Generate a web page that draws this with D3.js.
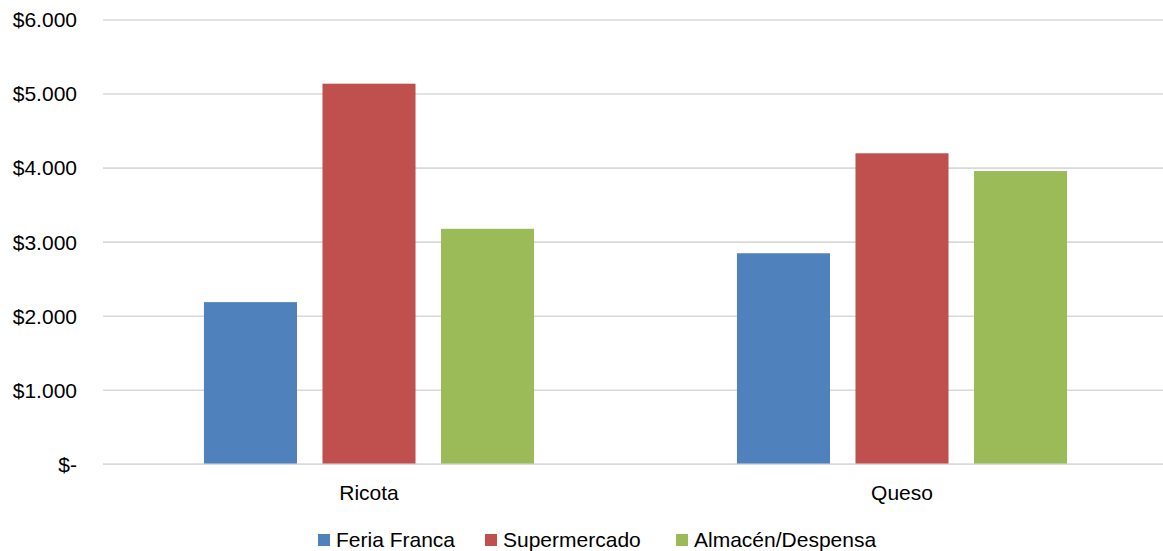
<!DOCTYPE html>
<html><head><meta charset="utf-8">
<script src="https://cdn.jsdelivr.net/npm/d3@7"></script>
<style>body{margin:0;background:#fff}svg{display:block}</style>
</head><body><div id="chart"></div>
<script>
const categories = ["Ricota", "Queso"];
const seriesNames = ["Feria Franca", "Supermercado", "Almacén/Despensa"];
const feriaFranca = [2190, 2850];
const supermercado = [5140, 4200];
const almacen = [3180, 3960];
const yTicks = [0, 1000, 2000, 3000, 4000, 5000, 6000];
const yTickLabels = ["$-", "$1.000", "$2.000", "$3.000", "$4.000", "$5.000", "$6.000"];
const colors = ["#4F81BD", "#C0504D", "#9BBB59"];

const values = [feriaFranca, supermercado, almacen];
const W = 1163, H = 551;
const font = "'Liberation Sans', Arial, Helvetica, sans-serif";
const fs = 21;
const svg = d3.select("#chart").append("svg").attr("width", W).attr("height", H);

const y = d3.scaleLinear().domain([0, 6000]).range([464.3, 20]);
const x0 = d3.scaleBand().domain(categories).range([102.5, 1168.5]).paddingInner(0).paddingOuter(0);
const x1 = d3.scaleBand().domain(seriesNames).range([0, x0.bandwidth()]).paddingInner(0.215).paddingOuter(0.856);

// gridlines
svg.append("g").selectAll("line").data(yTicks).join("line")
  .attr("x1", 103).attr("x2", 1168)
  .attr("y1", d => y(d)).attr("y2", d => y(d))
  .attr("stroke", "#d9d9d9").attr("stroke-width", 1.6);

// y labels
svg.append("g").selectAll("text").data(yTicks).join("text")
  .attr("x", 77).attr("y", d => y(d)).attr("dy", "0.35em")
  .attr("text-anchor", "end").attr("font-family", font).attr("font-size", fs).attr("fill", "#000")
  .text((d, i) => yTickLabels[i]);

// bars
const rows = [];
categories.forEach((c, ci) => seriesNames.forEach((s, si) => rows.push({c, s, si, v: values[si][ci]})));
svg.append("g").selectAll("rect").data(rows).join("rect")
  .attr("x", d => x0(d.c) + x1(d.s))
  .attr("width", x1.bandwidth())
  .attr("y", d => y(d.v))
  .attr("height", d => y(0) - y(d.v))
  .attr("fill", d => colors[d.si]);

// baseline
svg.append("line").attr("x1", 103).attr("x2", 1168).attr("y1", y(0)).attr("y2", y(0))
  .attr("stroke", "#d9d9d9").attr("stroke-width", 1.6);

// category labels
svg.append("g").selectAll("text").data(categories).join("text")
  .attr("x", d => x0(d) + x0.bandwidth() / 2).attr("y", 493).attr("dy", "0.35em")
  .attr("text-anchor", "middle").attr("font-family", font).attr("font-size", fs).attr("fill", "#000")
  .text(d => d);

// legend
const legendX = [318, 485, 676];
const lg = svg.append("g").selectAll("g").data(seriesNames).join("g")
  .attr("transform", (d, i) => `translate(${legendX[i]},540)`);
lg.append("rect").attr("x", 0).attr("y", -6).attr("width", 12).attr("height", 12).attr("fill", (d, i) => colors[i]);
lg.append("text").attr("x", 18).attr("y", 0).attr("dy", "0.35em")
  .attr("font-family", font).attr("font-size", fs).attr("fill", "#000").text(d => d);
</script></body></html>
